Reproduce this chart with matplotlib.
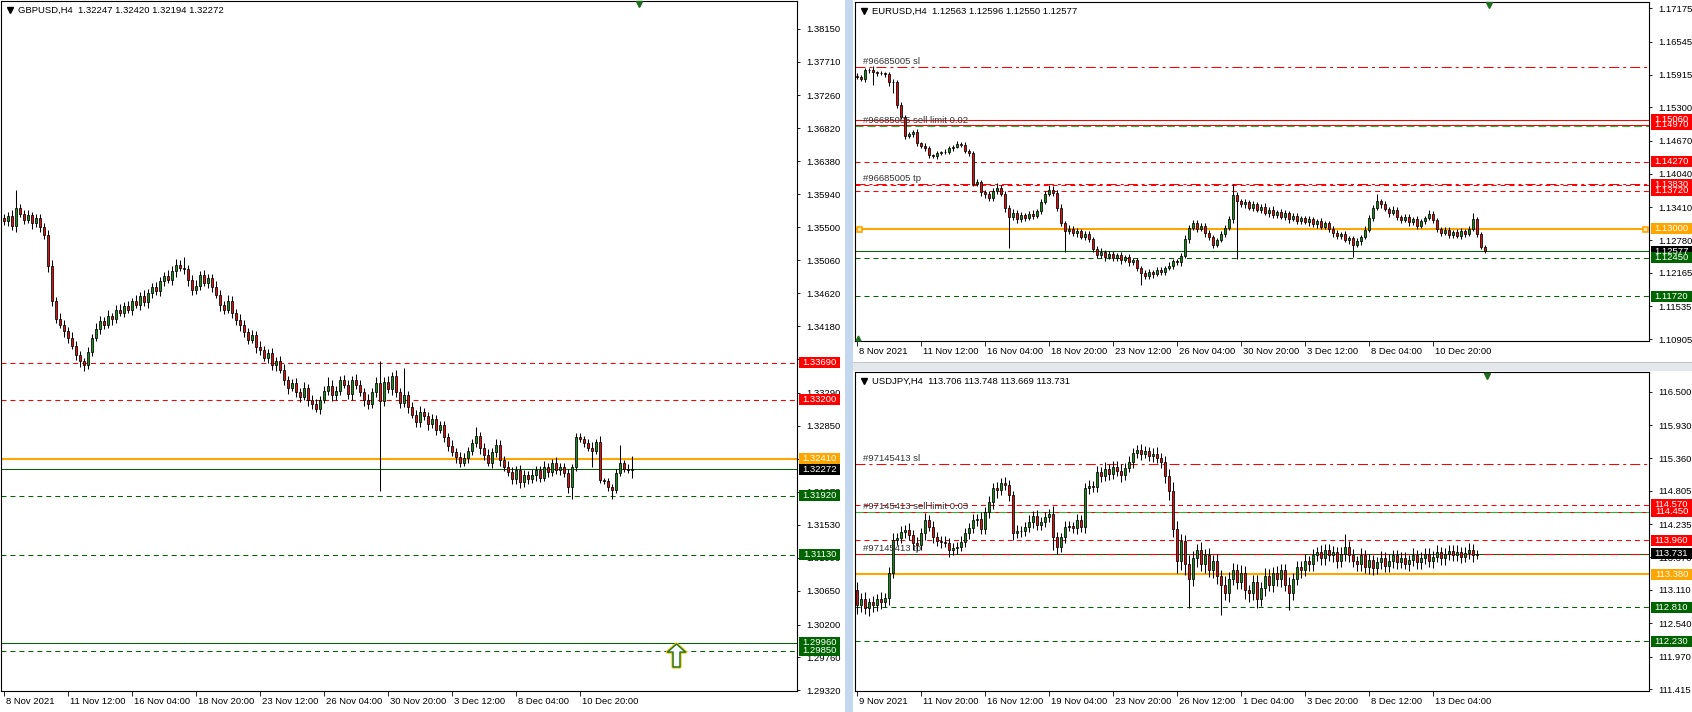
import matplotlib
matplotlib.use("Agg")
import matplotlib.pyplot as plt
import numpy as np
from matplotlib.patches import Rectangle
from matplotlib.lines import Line2D
from matplotlib.path import Path
from matplotlib.transforms import blended_transform_factory, ScaledTranslation

plt.rcParams['font.family'] = ['Liberation Sans', 'DejaVu Sans']
FS = 6.8

# ---------------- data ----------------
gbp_title = "GBPUSD,H4  1.32247 1.32420 1.32194 1.32272"
eur_title = "EURUSD,H4  1.12563 1.12596 1.12550 1.12577"
jpy_title = "USDJPY,H4  113.706 113.748 113.669 113.731"

gbp_times = ["8 Nov 2021", "11 Nov 12:00", "16 Nov 04:00", "18 Nov 20:00", "23 Nov 12:00",
             "26 Nov 04:00", "30 Nov 20:00", "3 Dec 12:00", "8 Dec 04:00", "10 Dec 20:00"]
eur_times = gbp_times
jpy_times = ["9 Nov 2021", "11 Nov 20:00", "16 Nov 12:00", "19 Nov 04:00", "23 Nov 20:00",
             "26 Nov 12:00", "1 Dec 04:00", "3 Dec 20:00", "8 Dec 12:00", "13 Dec 04:00"]

gbp_ticks = ["1.38150", "1.37710", "1.37260", "1.36820", "1.36380", "1.35940", "1.35500",
             "1.35060", "1.34620", "1.34180", "1.33740", "1.33290", "1.32850", "1.32410",
             "1.31970", "1.31530", "1.31090", "1.30650", "1.30200", "1.29760", "1.29320"]
eur_ticks = ["1.17175", "1.16545", "1.15915", "1.15300", "1.14670", "1.14040", "1.13410",
             "1.12780", "1.12165", "1.11535", "1.10905"]
jpy_ticks = ["116.500", "115.930", "115.360", "114.805", "114.235", "113.670", "113.110",
             "112.540", "111.970", "111.415"]

# H4 closes, first open, wicks (pips above / below body)
gbp_open0 = 1.3562
gbp_close = [
    1.3558, 1.3565, 1.3552, 1.3575, 1.3568, 1.3560, 1.3566, 1.3555, 1.3562, 1.3550,
    1.3540, 1.3498, 1.3452, 1.3428, 1.3420, 1.3412, 1.3402, 1.3392, 1.3380, 1.3372,
    1.3366, 1.3384, 1.3402, 1.3414, 1.3425, 1.3420, 1.3432, 1.3428, 1.3440, 1.3436,
    1.3445, 1.3440, 1.3452, 1.3446, 1.3458, 1.3450, 1.3462, 1.3470, 1.3465, 1.3478,
    1.3485, 1.3480, 1.3492, 1.3500, 1.3496, 1.3494, 1.3480, 1.3466, 1.3472, 1.3486,
    1.3476, 1.3482, 1.3470, 1.3460, 1.3446, 1.3440, 1.3452, 1.3436, 1.3426, 1.3420,
    1.3410, 1.3400, 1.3406, 1.3390, 1.3386, 1.3376, 1.3382, 1.3366, 1.3372, 1.3360,
    1.3346, 1.3336, 1.3342, 1.3330, 1.3324, 1.3336, 1.3320, 1.3314, 1.3308, 1.3320,
    1.3332, 1.3338, 1.3326, 1.3332, 1.3346, 1.3340, 1.3328, 1.3346, 1.3340, 1.3330,
    1.3320, 1.3314, 1.3330, 1.3342, 1.3318, 1.3344, 1.3334, 1.3352, 1.3330, 1.3316,
    1.3326, 1.3310, 1.3300, 1.3290, 1.3304, 1.3298, 1.3288, 1.3294, 1.3280, 1.3286,
    1.3270, 1.3258, 1.3250, 1.3244, 1.3236, 1.3242, 1.3252, 1.3262, 1.3272, 1.3256,
    1.3246, 1.3236, 1.3250, 1.3260, 1.3240, 1.3230, 1.3224, 1.3214, 1.3226, 1.3210,
    1.3220, 1.3214, 1.3220, 1.3226, 1.3216, 1.3230, 1.3224, 1.3236, 1.3226, 1.3230,
    1.3222, 1.3203, 1.3230, 1.3270, 1.3267, 1.3262, 1.3255, 1.3252, 1.3263, 1.3213,
    1.3212, 1.3203, 1.3200, 1.3222, 1.3235, 1.3228, 1.3226, 1.32272]
gbp_up = [
    6, 5, 8, 25, 6, 5, 7, 4, 6, 5, 5, 6, 8, 5, 7, 6, 5, 8, 6, 5,
    4, 6, 5, 8, 6, 5, 7, 4, 6, 8, 5, 6, 4, 7, 5, 8, 6, 5, 7, 6,
    5, 8, 6, 7, 6, 14, 5, 6, 8, 5, 7, 6, 5, 8, 6, 5, 7, 6, 5, 8,
    6, 5, 7, 6, 8, 5, 6, 7, 5, 6, 8, 6, 5, 7, 6, 8, 5, 6, 7, 5,
    6, 12, 8, 6, 5, 7, 6, 5, 8, 6, 5, 7, 6, 8, 30, 6, 8, 5, 7, 6,
    36, 5, 7, 6, 8, 5, 6, 7, 5, 6, 5, 6, 8, 5, 6, 7, 5, 6, 12, 5,
    6, 8, 5, 7, 6, 5, 8, 6, 5, 7, 6, 5, 7, 6, 5, 8, 6, 5, 7, 6,
    6, 5, 4, 5, 6, 4, 5, 9, 5, 8, 3, 4, 4, 5, 24, 4, 6, 17]
gbp_dn = [
    5, 7, 6, 8, 5, 6, 4, 7, 5, 6, 6, 8, 7, 6, 5, 8, 6, 5, 7, 8,
    8, 5, 6, 4, 7, 6, 5, 8, 6, 5, 6, 5, 7, 4, 6, 5, 8, 6, 5, 7,
    6, 5, 7, 8, 5, 6, 8, 7, 5, 6, 5, 7, 6, 5, 8, 6, 5, 7, 6, 8,
    7, 6, 5, 8, 6, 5, 7, 6, 8, 5, 6, 8, 5, 6, 7, 5, 8, 6, 5, 7,
    5, 6, 8, 7, 6, 5, 7, 8, 6, 5, 8, 6, 5, 7, 120, 6, 5, 8, 6, 7,
    6, 8, 5, 7, 6, 5, 8, 6, 7, 5, 6, 7, 5, 8, 6, 5, 7, 6, 5, 8,
    6, 5, 7, 6, 8, 5, 6, 7, 6, 8, 7, 6, 5, 8, 6, 5, 7, 6, 5, 7,
    5, 7, 15, 5, 4, 5, 3, 22, 5, 4, 4, 5, 12, 5, 4, 5, 4, 11]

eur_open0 = 1.1590
eur_close = [
    1.1588, 1.1583, 1.1600, 1.1601, 1.1596, 1.1594, 1.1594, 1.1593, 1.1577, 1.1577,
    1.1534, 1.1512, 1.1476, 1.1479, 1.1483, 1.1462, 1.1457, 1.1452, 1.1439, 1.1437,
    1.1443, 1.1445, 1.1446, 1.1452, 1.1455, 1.1461, 1.1459, 1.1448, 1.1444, 1.1385,
    1.1388, 1.1369, 1.1365, 1.1358, 1.1372, 1.1378, 1.1366, 1.1340, 1.1322, 1.1330,
    1.1318, 1.1326, 1.1320, 1.1328, 1.1325, 1.1334, 1.1350, 1.1366, 1.1374, 1.1368,
    1.1340, 1.1310, 1.1296, 1.1300, 1.1292, 1.1296, 1.1284, 1.1290, 1.1280, 1.1262,
    1.1250, 1.1256, 1.1246, 1.1252, 1.1244, 1.1250, 1.1240, 1.1246, 1.1236, 1.1240,
    1.1226, 1.1216, 1.1210, 1.1218, 1.1214, 1.1222, 1.1218, 1.1226, 1.1230, 1.1238,
    1.1236, 1.1248, 1.1280, 1.1302, 1.1310, 1.1300, 1.1306, 1.1292, 1.1284, 1.1270,
    1.1278, 1.1290, 1.1302, 1.1318, 1.1364, 1.1352, 1.1346, 1.1350, 1.1340, 1.1346,
    1.1336, 1.1342, 1.1330, 1.1336, 1.1326, 1.1332, 1.1322, 1.1330, 1.1318, 1.1324,
    1.1314, 1.1320, 1.1312, 1.1318, 1.1308, 1.1314, 1.1304, 1.1310, 1.1300, 1.1292,
    1.1286, 1.1290, 1.1278, 1.1282, 1.1270, 1.1276, 1.1284, 1.1298, 1.1320, 1.1340,
    1.1352, 1.1346, 1.1338, 1.1330, 1.1336, 1.1322, 1.1316, 1.1322, 1.1312, 1.1318,
    1.1306, 1.1314, 1.1320, 1.1328, 1.1316, 1.1300, 1.1292, 1.1298, 1.1288, 1.1294,
    1.1286, 1.1296, 1.1290, 1.1300, 1.1318, 1.1290, 1.1266, 1.12577]
eur_up = [
    4, 3, 5, 4, 7, 3, 4, 3, 4, 6, 5, 6, 4, 5, 4, 6, 3, 5, 4, 3,
    4, 3, 5, 4, 3, 6, 4, 5, 3, 4, 6, 5, 4, 7, 5, 8, 4, 6, 5, 7,
    5, 6, 4, 5, 7, 4, 6, 5, 8, 6, 5, 6, 4, 7, 5, 6, 4, 5, 6, 4,
    5, 7, 4, 6, 5, 4, 6, 5, 7, 4, 5, 4, 6, 5, 4, 6, 5, 4, 6, 5,
    4, 6, 8, 5, 6, 7, 5, 4, 6, 5, 4, 6, 5, 7, 20, 6, 5, 7, 4, 6,
    5, 4, 6, 5, 7, 4, 5, 6, 4, 5, 6, 5, 4, 6, 5, 4, 7, 5, 4, 6,
    5, 4, 6, 5, 4, 6, 5, 7, 6, 5, 14, 5, 6, 4, 7, 5, 4, 6, 5, 4,
    6, 5, 4, 8, 6, 5, 4, 6, 5, 4, 5, 6, 4, 5, 12, 5, 4, 3]
eur_dn = [
    5, 4, 6, 5, 24, 4, 3, 5, 6, 20, 6, 5, 7, 4, 5, 6, 4, 5, 6, 4,
    5, 4, 3, 5, 4, 3, 5, 4, 6, 5, 5, 7, 6, 5, 6, 7, 5, 8, 59, 6,
    7, 5, 6, 4, 7, 5, 6, 4, 5, 7, 6, 5, 41, 6, 5, 7, 4, 6, 5, 7,
    6, 5, 7, 4, 6, 5, 7, 4, 6, 5, 7, 22, 6, 5, 7, 4, 6, 5, 4, 6,
    5, 6, 4, 7, 5, 6, 4, 7, 5, 6, 5, 4, 6, 5, 7, 109, 5, 6, 4, 7,
    5, 6, 4, 7, 5, 6, 4, 5, 7, 4, 6, 5, 4, 7, 5, 6, 4, 5, 6, 7,
    5, 6, 4, 7, 24, 5, 6, 4, 5, 6, 4, 6, 5, 7, 4, 6, 5, 4, 7, 5,
    6, 4, 5, 4, 6, 7, 5, 4, 6, 5, 4, 6, 5, 4, 5, 6, 5, 3]

jpy_open0 = 113.10
jpy_close = [
    112.85, 112.95, 112.80, 112.90, 112.85, 112.95, 112.90, 112.98, 113.40, 113.96,
    114.00, 114.10, 114.13, 114.05, 113.91, 113.88, 114.08, 114.31, 114.19, 114.01,
    113.95, 113.93, 113.92, 113.79, 113.83, 113.85, 113.93, 114.08, 114.17, 114.30,
    114.32, 114.15, 114.44, 114.61, 114.85, 114.82, 114.94, 114.90, 114.73, 114.08,
    114.12, 114.11, 114.19, 114.27, 114.37, 114.22, 114.28, 114.35, 114.40, 114.01,
    113.84, 114.01, 114.19, 114.20, 114.17, 114.30, 114.18, 114.85, 114.89, 114.87,
    115.13, 115.05, 115.18, 115.10, 115.22, 115.15, 115.08, 115.20, 115.30, 115.45,
    115.50, 115.44, 115.48, 115.40, 115.44, 115.36, 115.30, 115.05, 114.80, 114.15,
    113.60, 113.95, 113.55, 113.30, 113.65, 113.80, 113.55, 113.70, 113.45, 113.60,
    113.35, 113.20, 113.05, 113.30, 113.45, 113.25, 113.40, 113.10, 113.05, 113.25,
    112.95, 113.15, 113.35, 113.20, 113.40, 113.30, 113.45, 113.20, 113.05, 113.30,
    113.50, 113.45, 113.60, 113.55, 113.70, 113.75, 113.65, 113.80, 113.70, 113.75,
    113.60, 113.72, 113.85, 113.70, 113.60, 113.55, 113.70, 113.50, 113.62, 113.48,
    113.58, 113.66, 113.52, 113.60, 113.70, 113.58, 113.65, 113.55, 113.62, 113.70,
    113.58, 113.66, 113.72, 113.60, 113.68, 113.75, 113.65, 113.72, 113.78, 113.70,
    113.76, 113.68, 113.74, 113.80, 113.70, 113.731]
jpy_up = [
    15, 10, 12, 8, 10, 9, 12, 8, 10, 12, 8, 10, 9, 12, 8, 10, 9, 12, 8, 10,
    9, 8, 10, 7, 9, 8, 10, 9, 8, 10, 9, 12, 8, 10, 9, 11, 8, 10, 9, 8,
    10, 9, 8, 12, 9, 10, 8, 9, 10, 14, 9, 8, 10, 9, 8, 10, 9, 8, 10, 9,
    10, 9, 12, 8, 10, 9, 12, 8, 10, 9, 8, 10, 9, 8, 10, 12, 9, 10, 12, 15,
    14, 12, 10, 15, 12, 10, 13, 11, 12, 10, 12, 10, 14, 11, 12, 10, 13, 12, 10, 11,
    12, 10, 13, 11, 10, 12, 10, 11, 13, 10, 11, 10, 12, 9, 11, 10, 12, 9, 10, 11,
    10, 12, 21, 10, 11, 9, 12, 10, 11, 9, 10, 11, 9, 12, 10, 9, 11, 10, 9, 12,
    10, 9, 11, 10, 9, 12, 10, 11, 9, 10, 11, 9, 10, 12, 9, 6]
jpy_dn = [
    15, 12, 10, 14, 12, 10, 11, 9, 12, 8, 9, 8, 10, 9, 12, 10, 9, 11, 8, 10,
    9, 10, 8, 12, 9, 10, 8, 9, 10, 8, 10, 9, 8, 10, 12, 14, 9, 8, 10, 12,
    9, 10, 8, 9, 10, 8, 9, 10, 8, 22, 12, 9, 10, 8, 9, 10, 8, 9, 10, 8,
    9, 10, 8, 11, 9, 10, 12, 9, 8, 10, 9, 10, 8, 9, 10, 8, 11, 12, 15, 14,
    20, 15, 18, 50, 12, 14, 11, 15, 12, 13, 14, 52, 12, 14, 11, 13, 12, 15, 14, 12,
    15, 12, 14, 11, 13, 12, 14, 11, 28, 12, 11, 13, 10, 12, 11, 10, 12, 11, 10, 12,
    11, 10, 12, 11, 10, 12, 11, 10, 12, 11, 10, 12, 11, 10, 12, 11, 10, 9, 11, 10,
    12, 11, 10, 9, 11, 10, 12, 11, 10, 9, 10, 11, 9, 10, 11, 6]

# horizontal levels: (price, kind)
gbp_levels = [(1.33690, "rdot"), (1.33200, "rdot"), (1.32410, "orange"), (1.32272, "bid"),
              (1.31920, "gdot"), (1.31130, "gdot"), (1.29960, "gsolid"), (1.29850, "gdot")]
eur_levels = [(1.16060, "rdashdot"), (1.15060, "rsolid"), (1.14970, "rsolid"), (1.14940, "pending"),
              (1.14270, "rdot"), (1.13830, "rdot"), (1.13840, "rdashdot"), (1.13720, "rdot"),
              (1.13000, "orange"), (1.12577, "bid"), (1.12450, "gdot"), (1.11720, "gdot")]
jpy_levels = [(115.26, "rdashdot"), (114.57, "rdot"), (114.45, "rsolid"), (114.44, "pending"),
              (113.96, "rdot"), (113.731, "bid"), (113.72, "rdashdot"), (113.38, "orange"),
              (112.81, "gdot"), (112.23, "gdot")]

# price boxes on the scale (drawn in this order)
gbp_boxes = [("1.33690", "red"), ("1.33200", "red"), ("1.32410", "orange"), ("1.32272", "black"),
             ("1.31920", "green"), ("1.31130", "green"), ("1.29960", "green"), ("1.29850", "green")]
eur_boxes = [("1.14970", "red"), ("1.15060", "red"), ("1.14270", "red"), ("1.13830", "red"),
             ("1.13720", "red"), ("1.13000", "orange"), ("1.12577", "black"), ("1.12450", "green"),
             ("1.11720", "green")]
jpy_boxes = [("114.570", "red"), ("114.450", "red"), ("113.960", "red"), ("113.731", "black"),
             ("113.380", "orange"), ("112.810", "green"), ("112.230", "green")]

eur_orders = [("#96685005 sl", 1.16060), ("#96685005 sell limit 0.02", 1.14940), ("#96685005 tp", 1.13840)]
jpy_orders = [("#97145413 sl", 115.26), ("#97145413 sell limit 0.03", 114.44), ("#97145413 tp", 113.72)]

arrow_bar, arrow_price = 168, 1.2979

# ---------------- styling ----------------
W, H = 1692, 712
RED = "#ff0000"
ORANGE = "#ffa500"
DKGREEN = "#006400"
BULL = "#1a8c1a"
BEAR = "#e01010"
BOXC = {"red": RED, "orange": ORANGE, "black": "black", "green": DKGREEN}
DOT = (0, (4.8, 3.8))
DASHDOT = (0, (9.6, 3.8, 2.9, 3.8))
LDASH = (0, (7.7, 3.8))
STYLES = {
    "rdot": dict(color=RED, ls=DOT, lw=0.75),
    "rdashdot": dict(color=RED, ls=DASHDOT, lw=0.75),
    "rsolid": dict(color=RED, ls="-", lw=0.75),
    "orange": dict(color=ORANGE, ls="-", lw=1.5),
    "bid": dict(color=DKGREEN, ls="-", lw=0.75),
    "gdot": dict(color=DKGREEN, ls=DOT, lw=0.75),
    "gsolid": dict(color=DKGREEN, ls="-", lw=0.75),
    "pending": dict(color="#2db52d", ls=LDASH, lw=0.75),
}

fig = plt.figure(figsize=(W / 100, H / 100), dpi=100)
fig.patch.set_facecolor("white")


def make_panel(box, ylim, x0px):
    l, t, r, b = box
    ax = fig.add_axes([l / W, 1 - b / H, (r - l) / W, (b - t) / H])
    ax.set_xlim((l - x0px) / 4, (r - x0px) / 4)
    ax.set_ylim(*ylim)
    for s in ax.spines.values():
        s.set_linewidth(0.8)
        s.set_color("black")
    ax.yaxis.tick_right()
    ax.tick_params(axis="y", direction="out", length=2.5, width=0.6, pad=4, labelsize=FS)
    ax.tick_params(axis="x", direction="out", length=3.5, width=0.6, pad=1, labelsize=FS)
    return ax


def candles(ax, open0, close, up, dn, pip):
    assert len(close) == len(up) == len(dn)
    c = np.array(close)
    o = np.r_[open0, c[:-1]]
    hi = np.maximum(o, c) + np.array(up) * pip
    lo = np.minimum(o, c) - np.array(dn) * pip
    x = np.arange(len(c))
    ax.vlines(x, lo, hi, color="black", lw=0.75, zorder=3)
    bull = c >= o
    ax.bar(x[bull], (c - o)[bull], bottom=o[bull], width=0.72, color=BULL,
           edgecolor="black", linewidth=0.55, zorder=4)
    ax.bar(x[~bull], (o - c)[~bull], bottom=c[~bull], width=0.72, color=BEAR,
           edgecolor="black", linewidth=0.55, zorder=4)


def decorate(ax, box, title, times, ticks, levels, boxes, orders):
    l, t, r, b = box
    ppp = (ax.get_ylim()[1] - ax.get_ylim()[0]) / (b - t)
    wpx = r - l
    for price, kind in levels:
        ax.axhline(price, zorder=2, **STYLES[kind])
    ax.set_yticks([float(s) for s in ticks], ticks)
    ax.set_xticks(np.arange(len(times)) * 16, times)
    for lab in ax.get_xticklabels():
        lab.set_horizontalalignment("left")
        lab.set_transform(lab.get_transform() + ScaledTranslation(2 / 100, 0, fig.dpi_scale_trans))
    tr = blended_transform_factory(ax.transAxes, ax.transData)
    for txt, col in boxes:
        p = float(txt)
        ax.add_patch(Rectangle((1 + 2 / wpx, p - 5.5 * ppp), 41 / wpx, 11 * ppp, transform=tr,
                               fc=BOXC[col], ec="none", clip_on=False, zorder=10))
        ax.text(1 + 22.5 / wpx, p, txt, transform=tr, ha="center", va="center",
                color="white", fontsize=FS, zorder=11, clip_on=False)
    for txt, p in orders:
        ax.text(1.5, p + 5.5 * ppp, txt, ha="left", va="center", color="#333333",
                fontsize=FS, zorder=6)
    # header
    fig.text((l + 17) / W, 1 - (t + 9) / H, title, ha="left", va="center", fontsize=FS)
    fig.add_artist(Line2D([(l + 9) / W], [1 - (t + 9) / H], marker="v", ms=4.2, color="black",
                          transform=fig.transFigure))


gbp_box = (1, 1, 797, 691)
eur_box = (855, 2, 1649, 341)
jpy_box = (855, 372, 1649, 691)

ax1 = make_panel(gbp_box, (1.29313, 1.38518), 4)
ax2 = make_panel(eur_box, (1.10873, 1.17294), 857)
ax3 = make_panel(jpy_box, (111.381, 116.837), 857)

candles(ax1, gbp_open0, gbp_close, gbp_up, gbp_dn, 0.0001)
candles(ax2, eur_open0, eur_close, eur_up, eur_dn, 0.0001)
candles(ax3, jpy_open0, jpy_close, jpy_up, jpy_dn, 0.01)

decorate(ax1, gbp_box, gbp_title, gbp_times, gbp_ticks, gbp_levels, gbp_boxes, [])
decorate(ax2, eur_box, eur_title, eur_times, eur_ticks, eur_levels, eur_boxes, eur_orders)
decorate(ax3, jpy_box, jpy_title, jpy_times, jpy_ticks, jpy_levels, jpy_boxes, jpy_orders)

# orange order markers on EURUSD 1.13000 line ends
ax2.plot([ax2.get_xlim()[0] + 0.9, ax2.get_xlim()[1] - 0.9], [1.13, 1.13], ls="none", marker="s",
         ms=3.6, mfc="#ffe9b0", mec=ORANGE, mew=1.2, zorder=5, clip_on=False)

# buy arrow on GBPUSD
arrow = Path([(0, 1), (0.78, 0.3), (0.3, 0.3), (0.3, -1), (-0.3, -1), (-0.3, 0.3), (-0.78, 0.3), (0, 1)],
             [Path.MOVETO] + [Path.LINETO] * 6 + [Path.CLOSEPOLY])
ax1.plot([arrow_bar], [arrow_price], marker=arrow, ms=16.5, mfc="white", mec="#e8c800", mew=2.4, zorder=6)
ax1.plot([arrow_bar], [arrow_price], marker=arrow, ms=16.5, mfc="#f4faff", mec="#1e6e1e", mew=1.0, zorder=7)

# chart-shift markers
for x, y in [(639, 4), (1489, 5), (1487, 376)]:
    fig.add_artist(Line2D([x / W], [1 - y / H], marker="v", ms=5, color="#1e6e1e",
                          transform=fig.transFigure))
fig.add_artist(Line2D([858 / W], [1 - 338 / H], marker="^", ms=3.5, color="#1e6e1e",
                      transform=fig.transFigure))

# window separators
fig.add_artist(Rectangle((845 / W, 0), 8 / W, 1, transform=fig.transFigure, fc="#c3d8ef", ec="none"))
fig.add_artist(Rectangle((853 / W, 1 - 371 / H), (W - 853) / W, 9 / H, transform=fig.transFigure,
                         fc="#e4e8ec", ec="none"))
fig.add_artist(Line2D([853 / W, 1], [1 - 362 / H, 1 - 362 / H], color="#c8c8c8", lw=0.8,
                      transform=fig.transFigure))

fig.savefig("out.png", dpi=100)
